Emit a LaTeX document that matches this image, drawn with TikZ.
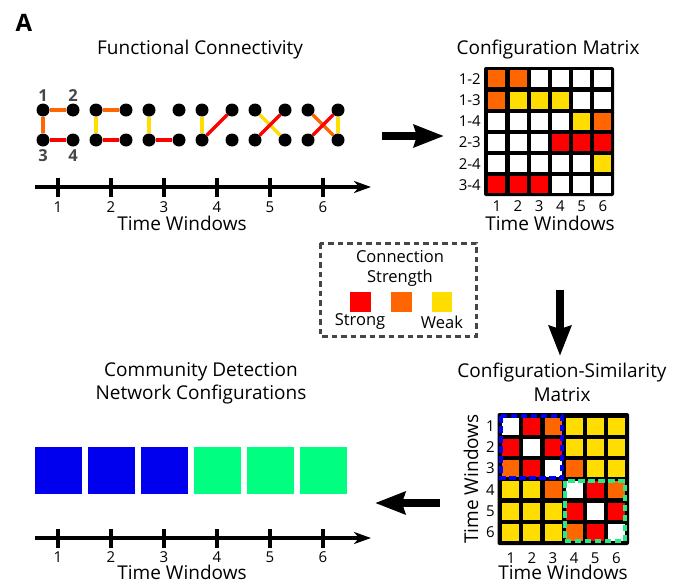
\documentclass[tikz,border=0pt]{standalone}
\usepackage{fontspec}
\setmainfont{Open Sans}
\usetikzlibrary{arrows.meta}

\definecolor{strongc}{RGB}{255,0,0}
\definecolor{midc}{RGB}{255,102,0}
\definecolor{weakc}{RGB}{255,221,0}
\definecolor{commblue}{RGB}{0,0,238}
\definecolor{commgreen}{RGB}{0,255,128}
\definecolor{boxgreen}{RGB}{40,235,130}
\definecolor{labelgray}{RGB}{70,70,70}

\tikzset{
    title/.style={font=\fontsize{19}{22}\selectfont, inner sep=0pt},
    num/.style={font=\fontsize{15}{17}\selectfont, inner sep=0pt},
    legendtext/.style={font=\fontsize{16.5}{19}\selectfont, inner sep=0pt},
    vlabel/.style={font=\fontsize{16.5}{18}\selectfont\bfseries, text=labelgray, inner sep=0pt},
    dot/.style={circle, fill=black, minimum size=13pt, inner sep=0pt},
    link/.style={line width=3.5pt},
    axis/.style={line width=4pt, -{Stealth[length=17pt,width=12pt,inset=5pt]}},
    tickmark/.style={line width=4pt},
    bigarrow/.style={line width=8pt, -{Stealth[length=30pt,width=22pt,inset=3pt]}},
    frame/.style={fill=black, rounded corners=2pt},
    groupbox/.style={line width=3.8pt, dash pattern=on 6.5pt off 3.5pt},
    commblock/.style={minimum size=47pt, inner sep=0pt},
}

\begin{document}
\begin{tikzpicture}[x=1pt, y=-1pt]
    \useasboundingbox (0,0) rectangle (683,581);

    \node[font=\fontsize{24}{26}\selectfont\bfseries, inner sep=0pt] (panel) at (24,23) {A};

    % functional connectivity, one small graph per window
    \node[title] (fc-title) at (200,50) {Functional Connectivity};
    \foreach \x [count=\i] in {58,111,164,217,270,323} {
        \node[dot] (a\i) at (\x-15,110) {};
        \node[dot] (b\i) at (\x+15,110) {};
        \node[dot] (c\i) at (\x-15,140) {};
        \node[dot] (d\i) at (\x+15,140) {};
    }
    \foreach \w/\u/\v/\col in {1/a/b/midc, 1/a/c/midc, 1/c/d/strongc,
                               2/a/b/midc, 2/a/c/weakc, 2/c/d/strongc,
                               3/a/c/weakc, 3/c/d/strongc,
                               4/a/c/weakc, 4/c/b/strongc,
                               5/a/d/weakc, 5/c/b/strongc,
                               6/a/d/midc, 6/c/b/strongc, 6/b/d/weakc}
        \draw[link, \col] (\u\w) -- (\v\w);
    \node[vlabel] (lab1) at (43,96) {1};
    \node[vlabel] (lab2) at (73,96) {2};
    \node[vlabel] (lab3) at (43,156) {3};
    \node[vlabel] (lab4) at (73,156) {4};

    % time axis under the graphs
    \draw[axis] (35,187) -- (371,187);
    \foreach \x [count=\i] in {58,111,164,217,270,323} {
        \draw[tickmark] (\x,178) -- (\x,197);
        \node[num] (fc-t\i) at (\x,207) {\i};
    }
    \node[title] (fc-axis) at (182,223) {Time Windows};

    \coordinate (fc-out) at (382,136);
    \coordinate (cm-in) at (444,136);
    \draw[bigarrow] (fc-out) -- (cm-in);

    % configuration matrix: edges x windows
    \node[title] (cm-title) at (548,50) {Configuration Matrix};
    \fill[frame] (484,67) rectangle (614,196);
    \foreach \row [count=\r] in {{midc,midc,white,white,white,white},
                                 {midc,weakc,weakc,weakc,white,white},
                                 {white,white,white,white,weakc,midc},
                                 {white,white,white,strongc,strongc,strongc},
                                 {white,white,white,white,white,weakc},
                                 {strongc,strongc,strongc,white,white,white}} {
        \foreach \col [count=\k] in \row
            \fill[\col] ({488.3+(\k-1)*21.2},{70.3+(\r-1)*21.2}) rectangle ++(17,17);
    }
    \foreach \e [count=\r] in {1-2,1-3,1-4,2-3,2-4,3-4}
        \node[num, anchor=east] (cm-r\r) at (481,{79+(\r-1)*21.2}) {\e};
    \foreach \k in {1,...,6}
        \node[num] (cm-c\k) at ({496.8+(\k-1)*21.2},206) {\k};
    \node[title] (cm-axis) at (550,223) {Time Windows};

    % legend
    \draw[labelgray, line width=3pt, dash pattern=on 5.5pt off 4pt] (320,243) rectangle (476,336);
    \node[legendtext] (leg1) at (400,257) {Connection};
    \node[legendtext] (leg2) at (400,278) {Strength};
    \fill[strongc] (350,292) rectangle (371,312);
    \fill[midc] (391,292) rectangle (412,312);
    \fill[weakc] (432,292) rectangle (452,312);
    \node[legendtext] (leg-strong) at (360,322) {Strong};
    \node[legendtext] (leg-weak) at (442,322) {Weak};

    \coordinate (cm-out) at (560,290);
    \coordinate (sm-in) at (560,356);
    \draw[bigarrow] (cm-out) -- (sm-in);

    % configuration-similarity matrix: windows x windows
    \node[title] (sm-title1) at (562,373) {Configuration-Similarity};
    \node[title] (sm-title2) at (562,395) {Matrix};
    \fill[frame] (497.5,413) rectangle (629,545);
    \foreach \row [count=\r] in {{white,strongc,midc,weakc,weakc,weakc},
                                 {strongc,white,strongc,weakc,weakc,weakc},
                                 {midc,strongc,white,midc,weakc,weakc},
                                 {weakc,weakc,midc,white,strongc,midc},
                                 {weakc,weakc,weakc,strongc,white,strongc},
                                 {weakc,weakc,weakc,midc,strongc,white}} {
        \foreach \col [count=\k] in \row
            \fill[\col] ({502.3+(\k-1)*21.1},{417.5+(\r-1)*21.3}) rectangle ++(17,17);
    }
    \draw[groupbox, commblue] (500.7,416.3) rectangle (562.3,478);
    \draw[groupbox, boxgreen] (564.7,481.3) rectangle (624.7,541.3);
    \foreach \k in {1,...,6} {
        \node[num, anchor=east] (sm-r\k) at (495,{426+(\k-1)*21.3}) {\k};
        \node[num] (sm-c\k) at ({510.8+(\k-1)*21.1},558) {\k};
    }
    \node[title, rotate=90] (sm-yaxis) at (471,479) {Time Windows};
    \node[title] (sm-axis) at (563,572) {Time Windows};

    \coordinate (sm-out) at (440,503);
    \coordinate (cd-in) at (375,503);
    \draw[bigarrow] (sm-out) -- (cd-in);

    % community detection result
    \node[title] (cd-title1) at (201,372) {Community Detection};
    \node[title] (cd-title2) at (201,395) {Network Configurations};
    \foreach \x/\col [count=\i] in {35/commblue,88/commblue,141/commblue,194/commgreen,247/commgreen,300/commgreen}
        \node[commblock, fill=\col, anchor=north west] (comm\i) at (\x,447) {};

    \draw[axis] (35,538) -- (371,538);
    \foreach \x [count=\i] in {58,111,164,217,270,323} {
        \draw[tickmark] (\x,529) -- (\x,548);
        \node[num] (cd-t\i) at (\x,557) {\i};
    }
    \node[title] (cd-axis) at (182,572) {Time Windows};
\end{tikzpicture}
\end{document}
